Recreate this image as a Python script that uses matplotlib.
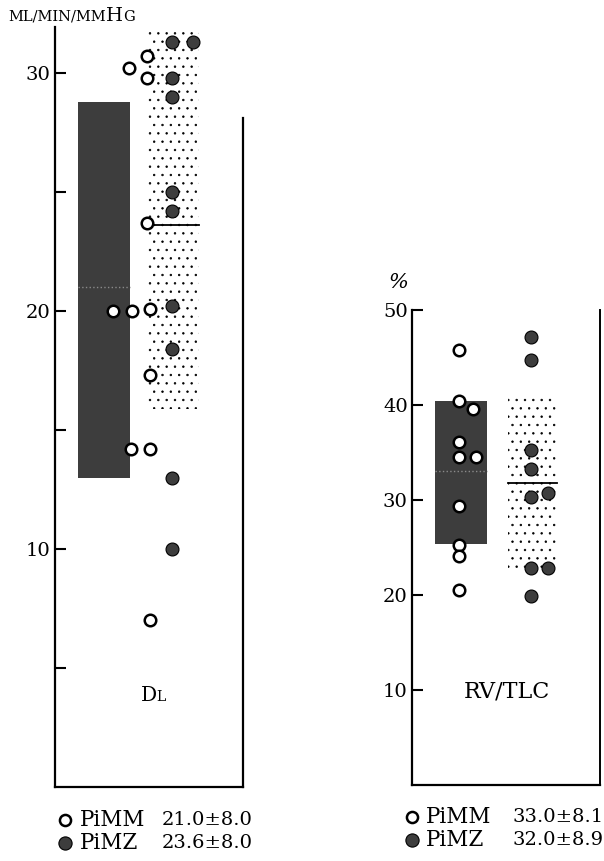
import matplotlib
matplotlib.use('Agg')
import matplotlib.pyplot as plt
from matplotlib.lines import Line2D

# DL (ml/min/mmHg)
dl_mm = [30.2, 30.7, 29.8, 23.7, 20.0, 20.0, 20.1, 17.3, 14.2, 14.2, 7.0]
dl_mz = [31.3, 31.3, 29.8, 29.0, 25.0, 24.2, 20.2, 18.4, 13.0, 10.0]
dl_bar_low = [13.0, 15.9]
dl_bar_high = [28.8, 31.7]
dl_mean = [21.0, 23.6]
dl_legend = ['21.0\u00b18.0', '23.6\u00b18.0']

# RV/TLC (%)
rv_mm = [45.8, 40.4, 39.6, 36.1, 34.5, 34.5, 29.4, 25.3, 24.1, 20.5]
rv_mz = [47.2, 44.7, 35.3, 33.3, 30.3, 30.7, 22.8, 22.8, 19.9]
rv_bar_low = [25.4, 22.8]
rv_bar_high = [40.4, 41.3]
rv_mean = [33.0, 31.8]
rv_legend = ['33.0\u00b18.1', '32.0\u00b18.9']

groups = ['PiMM', 'PiMZ']

# horizontal placement of the dots (strip jitter)
dl_mm_x = [3.94, 4.89, 4.89, 4.89, 3.09, 4.10, 5.05, 5.05, 4.04, 5.05, 5.05]
dl_mz_x = [6.22, 7.34, 6.22, 6.22, 6.22, 6.22, 6.22, 6.22, 6.22, 6.22]
rv_mm_x = [2.5, 2.5, 3.24, 2.5, 2.5, 3.4, 2.5, 2.5, 2.5, 2.5]
rv_mz_x = [6.33, 6.33, 6.33, 6.33, 6.33, 7.23, 6.33, 7.23, 6.33]

SERIF = 'DejaVu Serif'
W, H = 604, 861
DARK = '#3d3d3d'


def fx(px):
    return px / W


def fy(py):
    return 1 - py / H


fig = plt.figure(figsize=(W / 100, H / 100), dpi=100)
fig.patch.set_facecolor('white')
plt.rcParams['hatch.linewidth'] = 0.5


def panel(ax, mm, mmx, mz, mzx, low, high, mean, bar_x):
    # dark bar (PiMM) and dotted bar (PiMZ)
    (x0, x1), (x2, x3) = bar_x
    ax.fill_between([x0, x1], low[0], high[0], color=DARK, lw=0, zorder=1)
    ax.plot([x0, x1], [mean[0], mean[0]], color='#8a8a8a', lw=1, ls=':', zorder=2)
    ax.fill_between([x2, x3], low[1], high[1], facecolor='white',
                    edgecolor='black', hatch='..', lw=0, zorder=1)
    ax.plot([x2, x3], [mean[1], mean[1]], color='black', lw=1.3, zorder=2)
    ax.plot(mmx, mm, 'o', ms=8.3, mfc='white', mec='black', mew=1.8,
            zorder=3, clip_on=False)
    ax.plot(mzx, mz, 'o', ms=9.3, mfc=DARK, mec='black', mew=0.8,
            zorder=3, clip_on=False)
    ax.set_xlim(0, 10)
    ax.set_xticks([])
    for s in ['top', 'right']:
        ax.spines[s].set_visible(False)
    for s in ['left', 'bottom']:
        ax.spines[s].set_linewidth(1.6)
    ax.tick_params(axis='y', which='both', direction='in', length=8,
                   width=1.5, pad=3, labelsize=14)


# left panel: DL
ax1 = fig.add_axes([fx(55), fy(787), fx(188), (787 - 27) / H])
panel(ax1, dl_mm, dl_mm_x, dl_mz, dl_mz_x, dl_bar_low, dl_bar_high, dl_mean,
      [(1.22, 4.0), (4.95, 7.66)])
ax1.set_ylim(0, 31.93)
ax1.set_yticks([10, 20, 30])
ax1.set_yticks([5, 15, 25], minor=True)
for lab in ax1.get_yticklabels():
    lab.set_family(SERIF)
ax1.plot([10, 10], [0, 28.1], color='black', lw=1.6, clip_on=False)

# right panel: RV/TLC
ax2 = fig.add_axes([fx(412), fy(785), fx(188), (785 - 310) / H])
panel(ax2, rv_mm, rv_mm_x, rv_mz, rv_mz_x, rv_bar_low, rv_bar_high, rv_mean,
      [(1.22, 3.99), (5.1, 7.7)])
ax2.set_ylim(0, 50)
ax2.set_yticks([10, 20, 30, 40, 50])
for lab in ax2.get_yticklabels():
    lab.set_family(SERIF)
ax2.spines['right'].set_visible(True)
ax2.spines['right'].set_linewidth(1.4)

# unit labels
t1 = fig.text(fx(8), fy(21), 'ML/MIN/MM', fontsize=10.5, family=SERIF, va='baseline')
t2 = ax1.annotate('H', xy=(1, fy(21)), xycoords=(t1, 'figure fraction'),
                  fontsize=14, family=SERIF, va='baseline', ha='left')
ax1.annotate('G', xy=(1, fy(21)), xycoords=(t2, 'figure fraction'),
             fontsize=10.5, family=SERIF, va='baseline', ha='left')
fig.text(fx(398), fy(283), '%', fontsize=15, family=SERIF, style='italic',
         ha='center', va='center')

# panel names
d = ax1.text(4.55, 3.6, 'D', fontsize=14.5, family=SERIF, va='baseline', ha='left')
ax1.annotate('L', xy=(1, 3.6), xycoords=(d, 'data'), fontsize=10,
             family=SERIF, va='baseline', ha='left')
ax2.text(5.05, 9.8, 'RV/TLC', fontsize=16, family=SERIF, ha='center', va='center')


# legends
def legend(mx, tx, nx, rows, values):
    styles = [dict(mfc='white', mec='black', mew=1.8, ms=8),
              dict(mfc=DARK, mec='black', mew=0.8, ms=9.5)]
    for g, v, ry, st in zip(groups, values, rows, styles):
        fig.add_artist(Line2D([fx(mx)], [fy(ry)], marker='o', ls='none',
                              transform=fig.transFigure, **st))
        fig.text(fx(tx), fy(ry), g, fontsize=15.5, family=SERIF, va='center')
        fig.text(fx(nx), fy(ry), v, fontsize=14, family=SERIF, va='center')


legend(65, 80, 162, [820, 843], dl_legend)
legend(412, 426, 512, [817, 840], rv_legend)

fig.savefig('out.png', dpi=100, facecolor='white')
